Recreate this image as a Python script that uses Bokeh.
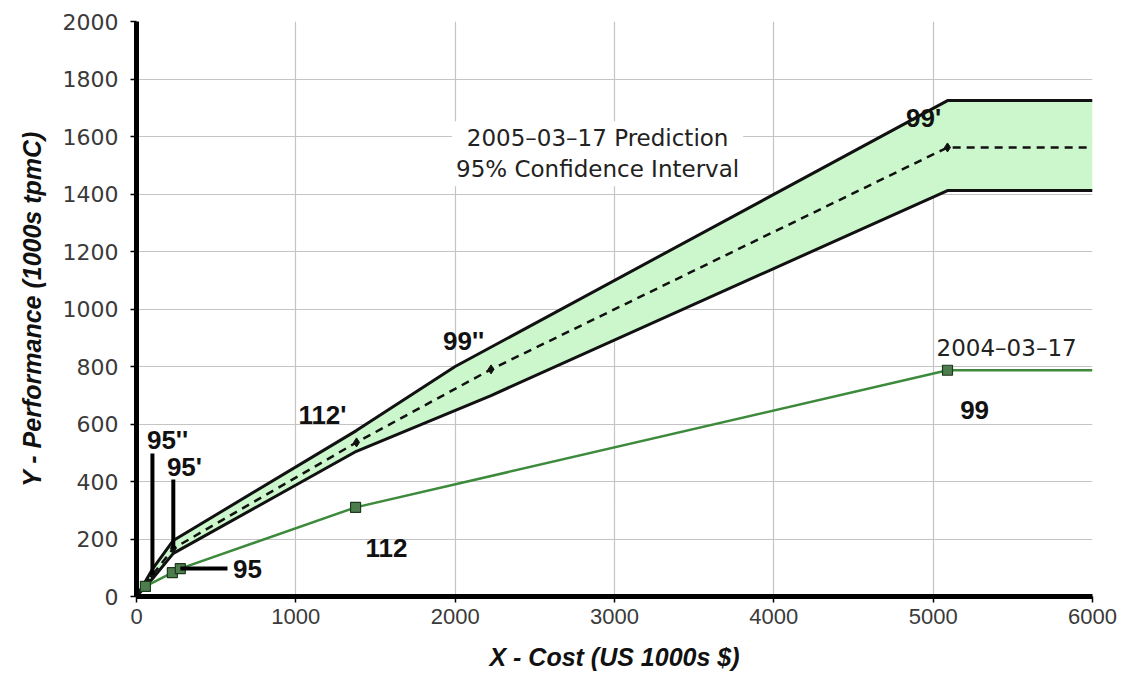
from bokeh.plotting import figure
from bokeh.models import Range1d, Label, FixedTicker
from bokeh.embed import file_html
from bokeh.resources import INLINE

# ---- data ----
# 2004-03-17 measured points (cost, performance)
meas_x = [56, 225, 275, 1375, 5090, 6000]
meas_y = [35, 83, 97, 310, 787, 787]
meas_mark_x = [56, 225, 275, 1375, 5090]
meas_mark_y = [35, 83, 97, 310, 787]

# 2005-03-17 prediction (mid) with 95% confidence band
pred_x = [0, 100, 231, 1381, 2225, 5090, 6000]
pred_y = [0, 75, 167, 536, 790, 1562, 1562]
pred_mark_x = [100, 231, 1381, 2225, 5090]
pred_mark_y = [75, 167, 536, 790, 1562]

upper_x = [0, 100, 231, 1380, 2000, 5090, 6000]
upper_y = [0, 95, 195, 577, 800, 1725, 1725]
lower_x = [0, 100, 231, 1380, 2225, 5090, 6000]
lower_y = [0, 62, 150, 505, 699, 1412, 1412]

x_ticks = [0, 1000, 2000, 3000, 4000, 5000, 6000]
y_ticks = [0, 200, 400, 600, 800, 1000, 1200, 1400, 1600, 1800, 2000]

# point labels
bold_labels = ["95''", "95'", "112'", "99''", "99'", "95", "112", "99"]
bold_lx = [195, 301, 1167, 2053, 4940, 697, 1569, 5260]
bold_ly = [543, 449, 630, 890, 1663, 97, 167, 650]

# callout leaders
lead_x0 = [100, 231, 275]
lead_y0 = [75, 167, 97]
lead_x1 = [100, 231, 571]
lead_y1 = [497, 407, 97]

p = figure(width=1129, height=689, output_backend="svg", toolbar_location=None,
           x_range=Range1d(0, 6000), y_range=Range1d(0, 2000),
           min_border_left=136, min_border_right=37, min_border_top=21,
           min_border_bottom=93)
p.outline_line_color = None
p.background_fill_color = "white"
p.border_fill_color = "white"

p.xgrid.ticker = FixedTicker(ticks=x_ticks)
p.ygrid.ticker = FixedTicker(ticks=y_ticks)
p.grid.grid_line_color = "#c4c4c4"
p.grid.grid_line_width = 1.2

for ax in (p.xaxis[0], p.yaxis[0]):
    ax.axis_line_color = "black"
    ax.axis_line_width = 5
    ax.major_tick_line_color = "black"
    ax.major_tick_line_width = 1.5
    ax.major_tick_out = 6
    ax.major_tick_in = 0
    ax.minor_tick_line_color = None
    ax.major_label_text_color = "#3a3a3a"
    ax.axis_label_text_font = "Liberation Sans"
    ax.axis_label_text_font_style = "bold italic"
    ax.axis_label_text_font_size = "25px"
    ax.axis_label_text_color = "#111111"

p.xaxis.ticker = FixedTicker(ticks=x_ticks)
p.yaxis.ticker = FixedTicker(ticks=y_ticks)
p.xaxis.major_label_text_font = "Liberation Sans"
p.xaxis.major_label_text_font_size = "22px"
p.yaxis.major_label_text_font = "DejaVu Sans"
p.yaxis.major_label_text_font_size = "22px"
p.xaxis.major_label_standoff = 6
p.yaxis.major_label_standoff = 12
p.xaxis.axis_label = "X - Cost (US 1000s $)"
p.yaxis.axis_label = "Y - Performance (1000s tpmC)"
p.xaxis.axis_label_standoff = 16
p.yaxis.axis_label_standoff = 14

# confidence band
p.patch(x=upper_x + lower_x[::-1], y=upper_y + lower_y[::-1],
        fill_color="#ccf7cc", line_color=None)
p.line(upper_x, upper_y, line_color="#111111", line_width=3)
p.line(lower_x, lower_y, line_color="#111111", line_width=3)
p.line(pred_x, pred_y, line_color="#111111", line_width=2.5, line_dash="8 6")
p.scatter(pred_mark_x, pred_mark_y, marker="diamond", size=9,
          fill_color="#111111", line_color="#111111")

# measured
p.line(meas_x, meas_y, line_color="#3d8a3d", line_width=2.5)
p.scatter(meas_mark_x, meas_mark_y, marker="square", size=10,
          fill_color="#4d7d4d", line_color="#1e3a1e", line_width=1.2)

# leaders
p.segment(x0=lead_x0, y0=lead_y0, x1=lead_x1, y1=lead_y1,
          line_color="black", line_width=4)

p.text(x=bold_lx, y=bold_ly, text=bold_labels, text_align="center",
       text_baseline="middle", text_font_size="26px", text_font_style="bold",
       text_color="#111111", text_font={"value": "Liberation Sans"})

p.add_layout(Label(x=2894, y=1540, text="2005\u201303\u201317 Prediction\n95% Confidence Interval",
                   text_align="center", text_baseline="middle",
                   text_font="DejaVu Sans", text_font_size="23px", text_color="#222222",
                   background_fill_color="white", background_fill_alpha=1.0,
                   padding=4))
p.add_layout(Label(x=5461, y=866, text="2004\u201303\u201317",
                   text_align="center", text_baseline="middle",
                   text_font="DejaVu Sans", text_font_size="23px", text_color="#222222",
                   background_fill_color="white", background_fill_alpha=1.0,
                   padding=2))

open("out.html", "w").write(file_html(p, INLINE))
